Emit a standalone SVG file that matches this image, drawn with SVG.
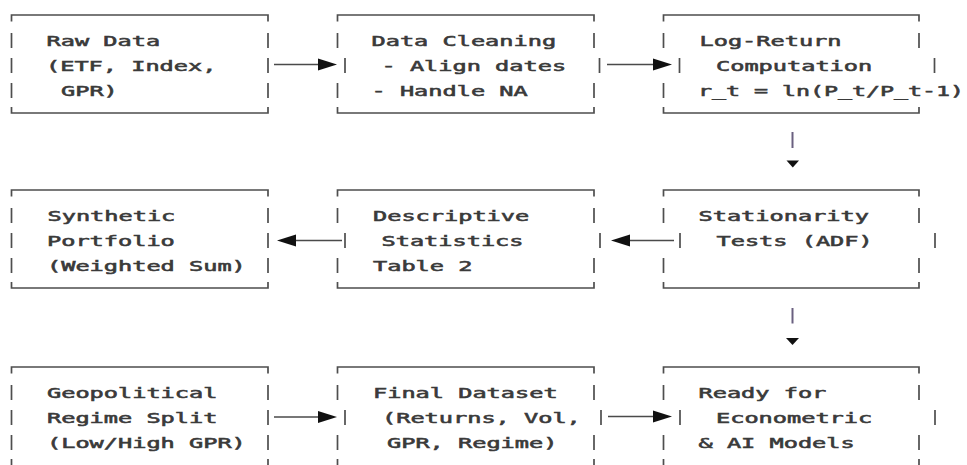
<svg xmlns="http://www.w3.org/2000/svg" width="967" height="465" viewBox="0 0 967 465">
<style>
.bg{fill:#ffffff}
.b{fill:none;stroke:#4e4e4e;stroke-width:1.7}
.t{font-family:"DejaVu Sans Mono","Liberation Mono",monospace;font-size:14px;fill:#3a3a3a;stroke:#3a3a3a;stroke-width:0.55}
.c{stroke:#4a4a4a;stroke-width:1.5;fill:none}
.v{stroke:#6a6080;stroke-width:2;fill:none}
.h{fill:#111111}
</style>
<defs>
<marker id="ah" markerUnits="userSpaceOnUse" markerWidth="20" markerHeight="13" refX="0" refY="6.5" orient="auto">
<path d="M0,0.5 L19,6.5 L0,12.5 z" class="h"/>
</marker>
</defs>
<rect class="bg" x="0" y="0" width="967" height="465"/>

<g id="raw-data">
<path class="b" d="M11.5,21.5V15H268V21.5 M11.5,107V113H268V107 M11.5,33V48 M11.5,58V73 M11.5,83V98 M268,33V48 M268,58V73 M268,83V98"/>
<text class="t" x="46.5" y="45.5" textLength="113.6" lengthAdjust="spacingAndGlyphs">Raw Data</text>
<text class="t" x="46" y="70.5" textLength="170.4" lengthAdjust="spacingAndGlyphs">(ETF, Index,</text>
<text class="t" x="61" y="95.5" textLength="56.8" lengthAdjust="spacingAndGlyphs">GPR)</text>
</g>

<g id="data-cleaning">
<path class="b" d="M337.5,21.5V15H594V21.5 M337.5,107V113H594V107 M337.5,33V48 M345,58V73 M337.5,83V98 M594,33V48 M599.5,58V73 M594,83V98"/>
<text class="t" x="371.5" y="45.5" textLength="184.6" lengthAdjust="spacingAndGlyphs">Data Cleaning</text>
<text class="t" x="381.5" y="70.5" textLength="184.6" lengthAdjust="spacingAndGlyphs">- Align dates</text>
<text class="t" x="371.5" y="95.5" textLength="156.2" lengthAdjust="spacingAndGlyphs">- Handle NA</text>
</g>

<g id="log-return">
<path class="b" d="M663.5,21.5V15H919V21.5 M663.5,107V113H919V107 M663.5,33V48 M679.5,58V73 M663.5,83V98 M919,33V48 M934.5,58V73"/>
<text class="t" x="699.5" y="45.5" textLength="142" lengthAdjust="spacingAndGlyphs">Log-Return</text>
<text class="t" x="716" y="70.5" textLength="156.2" lengthAdjust="spacingAndGlyphs">Computation</text>
<text class="t" x="698" y="95.5" textLength="266" lengthAdjust="spacingAndGlyphs">r_t = ln(P_t/P_t-1)</text>
</g>

<g id="synthetic-portfolio">
<path class="b" d="M11.5,196.5V190H268V196.5 M11.5,282V288H268V282 M11.5,208V223 M11.5,233V248 M11.5,258V273 M268,208V223 M268,233V248 M268,258V273"/>
<text class="t" x="47.5" y="220.5" textLength="127.8" lengthAdjust="spacingAndGlyphs">Synthetic</text>
<text class="t" x="47" y="245.5" textLength="127.8" lengthAdjust="spacingAndGlyphs">Portfolio</text>
<text class="t" x="47" y="270.5" textLength="198.8" lengthAdjust="spacingAndGlyphs">(Weighted Sum)</text>
</g>

<g id="descriptive-statistics">
<path class="b" d="M337.5,196.5V190H594V196.5 M337.5,282V288H594V282 M337.5,208V223 M345,233V248 M337.5,258V273 M594,208V223 M600,233V248 M594,258V273"/>
<text class="t" x="373" y="220.5" textLength="156.2" lengthAdjust="spacingAndGlyphs">Descriptive</text>
<text class="t" x="381.5" y="245.5" textLength="142" lengthAdjust="spacingAndGlyphs">Statistics</text>
<text class="t" x="373" y="270.5" textLength="99.4" lengthAdjust="spacingAndGlyphs">Table 2</text>
</g>

<g id="stationarity-tests">
<path class="b" d="M663.5,196.5V190H919V196.5 M663.5,282V288H919V282 M663.5,208V223 M680,233V248 M663.5,258V273 M919,208V223 M935,233V248 M919,258V273"/>
<text class="t" x="698.5" y="220.5" textLength="170.4" lengthAdjust="spacingAndGlyphs">Stationarity</text>
<text class="t" x="716.5" y="245.5" textLength="156.2" lengthAdjust="spacingAndGlyphs">Tests (ADF)</text>
</g>

<g id="regime-split">
<path class="b" d="M11.5,373.5V367H268V373.5 M11.5,459V466.5H268V459 M11.5,385V400 M11.5,410V425 M11.5,435V450 M268,385V400 M268,410V425 M268,435V450"/>
<text class="t" x="47" y="397.5" textLength="170.4" lengthAdjust="spacingAndGlyphs">Geopolitical</text>
<text class="t" x="47" y="422.5" textLength="170.4" lengthAdjust="spacingAndGlyphs">Regime Split</text>
<text class="t" x="47" y="447.5" textLength="198.8" lengthAdjust="spacingAndGlyphs">(Low/High GPR)</text>
</g>

<g id="final-dataset">
<path class="b" d="M337.5,373.5V367H594V373.5 M337.5,459V466.5H594V459 M337.5,385V400 M345,410V425 M337.5,435V450 M594,385V400 M601,410V425 M594,435V450"/>
<text class="t" x="373" y="397.5" textLength="184.6" lengthAdjust="spacingAndGlyphs">Final Dataset</text>
<text class="t" x="382" y="422.5" textLength="198.8" lengthAdjust="spacingAndGlyphs">(Returns, Vol,</text>
<text class="t" x="387" y="447.5" textLength="170.4" lengthAdjust="spacingAndGlyphs">GPR, Regime)</text>
</g>

<g id="ready-models">
<path class="b" d="M663.5,373.5V367H919V373.5 M663.5,459V466.5H919V459 M663.5,385V400 M680,410V425 M663.5,435V450 M919,385V400 M935,410V425 M919,435V450"/>
<text class="t" x="698.5" y="397.5" textLength="127.8" lengthAdjust="spacingAndGlyphs">Ready for</text>
<text class="t" x="716" y="422.5" textLength="156.2" lengthAdjust="spacingAndGlyphs">Econometric</text>
<text class="t" x="698.5" y="447.5" textLength="156.2" lengthAdjust="spacingAndGlyphs">&amp; AI Models</text>
</g>

<g id="connectors">
<line class="c" x1="274" y1="64.5" x2="318" y2="64.5" marker-end="url(#ah)"/>
<line class="c" x1="607" y1="64.5" x2="653" y2="64.5" marker-end="url(#ah)"/>
<path class="v" d="M792.5,132V148"/>
<polygon class="h" points="786.5,160.5 799,160.5 792.8,167.5"/>
<line class="c" x1="674" y1="240.5" x2="630" y2="240.5" marker-end="url(#ah)"/>
<line class="c" x1="342" y1="240.5" x2="296" y2="240.5" marker-end="url(#ah)"/>
<path class="v" d="M792.5,308V323.5"/>
<polygon class="h" points="786,338 799,338 792.5,345"/>
<line class="c" x1="274" y1="417" x2="318" y2="417" marker-end="url(#ah)"/>
<line class="c" x1="608" y1="416.5" x2="653" y2="416.5" marker-end="url(#ah)"/>
</g>
</svg>
